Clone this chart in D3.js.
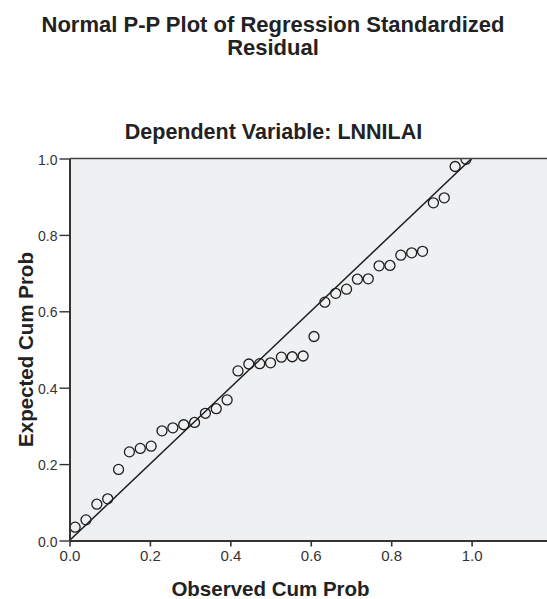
<!DOCTYPE html>
<html>
<head>
<meta charset="utf-8">
<script src="https://cdn.jsdelivr.net/npm/d3@7"></script>
<style>
  html, body { margin: 0; padding: 0; background: #ffffff; }
  svg { display: block; font-family: "Liberation Sans", Arial, sans-serif; }
</style>
</head>
<body>
<svg id="chart" width="547" height="599"></svg>
<script>
// ---- data ----
const titleLines = ["Normal P-P Plot of Regression Standardized", "Residual"];
const subtitle = "Dependent Variable: LNNILAI";
const xLabel = "Observed Cum Prob";
const yLabel = "Expected Cum Prob";
const xTicks = [0.0, 0.2, 0.4, 0.6, 0.8, 1.0];
const yTicks = [0.0, 0.2, 0.4, 0.6, 0.8, 1.0];
const observed = [0.014, 0.041, 0.068, 0.095, 0.122, 0.149, 0.176, 0.203, 0.230, 0.257,
                  0.284, 0.311, 0.338, 0.365, 0.392, 0.419, 0.446, 0.473, 0.500, 0.527,
                  0.554, 0.581, 0.608, 0.635, 0.662, 0.689, 0.716, 0.743, 0.770, 0.797,
                  0.824, 0.851, 0.878, 0.905, 0.932, 0.959, 0.986];
const expected = [0.035, 0.054, 0.095, 0.109, 0.186, 0.232, 0.241, 0.247, 0.287, 0.295,
                  0.303, 0.309, 0.333, 0.345, 0.368, 0.444, 0.462, 0.463, 0.465, 0.480,
                  0.481, 0.483, 0.534, 0.624, 0.647, 0.658, 0.684, 0.685, 0.719, 0.720,
                  0.747, 0.753, 0.757, 0.884, 0.897, 0.979, 0.998];
const refLine = [[0, 0], [1, 1]];

// ---- layout ----
const svg = d3.select("#chart");
const pL = 69.5, pR = 548, pT = 158.5, pB = 540.5;
const x = d3.scaleLinear().domain([0, 1.19]).range([pL, pR]);
const y = d3.scaleLinear().domain([0, 1]).range([pB, pT]);

// titles
svg.append("g").selectAll("text").data(titleLines).join("text")
  .attr("x", 273).attr("y", (d, i) => 31.5 + i * 23)
  .attr("text-anchor", "middle").style("font-size", "22px").style("font-weight", "bold")
  .attr("fill", "#222").text(d => d);
svg.append("text").attr("x", 273.5).attr("y", 138.5)
  .attr("text-anchor", "middle").style("font-size", "21.5px").style("font-weight", "bold")
  .attr("fill", "#222").text(subtitle);

// plot background
svg.append("rect").attr("x", pL).attr("y", pT)
  .attr("width", pR - pL).attr("height", pB - pT).attr("fill", "#eff0f2");

// clip
svg.append("clipPath").attr("id", "clip").append("rect")
  .attr("x", pL).attr("y", pT).attr("width", pR - pL).attr("height", pB - pT);

const plot = svg.append("g").attr("clip-path", "url(#clip)");

// reference line
plot.append("path").datum(refLine)
  .attr("d", d3.line().x(d => x(d[0])).y(d => y(d[1])))
  .attr("stroke", "#1e1e1e").attr("stroke-width", 1.5).attr("fill", "none");

// points
plot.selectAll("circle").data(observed.map((o, i) => [o, expected[i]])).join("circle")
  .attr("cx", d => x(d[0])).attr("cy", d => y(d[1])).attr("r", 5)
  .attr("fill", "none").attr("stroke", "#1e1e1e").attr("stroke-width", 1.3);

// top border
svg.append("line").attr("x1", pL).attr("x2", pR).attr("y1", pT).attr("y2", pT)
  .attr("stroke", "#444").attr("stroke-width", 1.5);

// axes
const xAxis = svg.append("g").attr("transform", `translate(0,${pB})`)
  .call(d3.axisBottom(x).tickValues(xTicks).tickFormat(d3.format(".1f")).tickSize(6).tickSizeOuter(0));
xAxis.select(".domain").attr("stroke", "#333").attr("stroke-width", 2);
xAxis.selectAll(".tick line").attr("stroke", "#333").attr("stroke-width", 1.6);
xAxis.selectAll(".tick text").style("font-size", "15px").attr("fill", "#333")
  .style("font-family", "'Liberation Sans', Arial, sans-serif").attr("y", 10);

const yAxis = svg.append("g").attr("transform", `translate(${pL},0)`)
  .call(d3.axisLeft(y).tickValues(yTicks).tickFormat(d3.format(".1f")).tickSize(10).tickSizeOuter(0));
yAxis.select(".domain").attr("stroke", "#333").attr("stroke-width", 2);
yAxis.selectAll(".tick line").attr("stroke", "#333").attr("stroke-width", 1.4);
yAxis.selectAll(".tick text").style("font-size", "14px").attr("fill", "#333")
  .style("font-family", "'Liberation Sans', Arial, sans-serif").attr("x", -12).attr("dy", "0.4em");

// axis titles
svg.append("text").attr("x", 270.5).attr("y", 596)
  .attr("text-anchor", "middle").style("font-size", "20.5px").style("font-weight", "bold")
  .attr("fill", "#222").text(xLabel);
svg.append("text").attr("transform", "translate(33,349.5) rotate(-90)")
  .attr("text-anchor", "middle").style("font-size", "20.5px").style("font-weight", "bold")
  .attr("fill", "#222").text(yLabel);
</script>
</body>
</html>
